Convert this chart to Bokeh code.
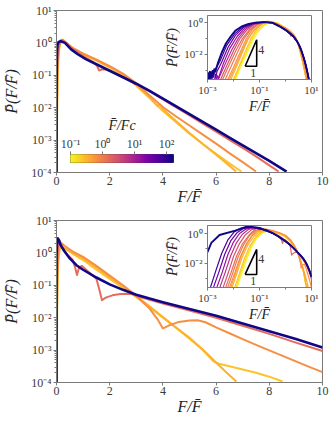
import numpy as np
from bokeh.plotting import figure
from bokeh.models import (CustomJSTickFormatter, FixedTicker, GridBox, Range1d, ColumnDataSource)
from bokeh.palettes import Plasma256
from bokeh.embed import file_html
from bokeh.resources import INLINE
from bokeh.core.properties import value

# ---------------- colour scale (F̄/Fc) ----------------
cbar_low, cbar_high = 0.1, 166.0
cbar_ticks = [0.1, 1, 10, 100]

# ---------------- TOP panel: main curves (F/F̄, log10 P̄) ----------------
top_yB_v = 0.25
top_yB_x = [0, 0.01, 0.017, 0.028, 0.045, 0.072, 0.11, 0.16, 0.22, 0.35, 0.6, 1.0, 1.5, 2.0, 2.5, 3.0,
            3.5, 4.0, 4.5, 5.0, 5.5, 6.0, 6.5, 6.95]
top_yB_logP = [-4, -3.6, -2.7, -1.85, -1.05, -0.5, -0.15, 0.02, 0.08, 0.0, -0.17, -0.35, -0.55, -0.76,
               -1.0, -1.32, -1.7, -2.1, -2.45, -2.8, -3.12, -3.42, -3.72, -3.97]

top_yA_v = 0.35
top_yA_x = [0, 0.0079, 0.0135, 0.022, 0.036, 0.06, 0.1, 0.15, 0.22, 0.35, 0.6, 1.0, 1.5, 2.0, 2.5, 3.0,
            3.5, 3.8, 3.9, 4.0, 4.5, 5.0, 5.5, 6.0, 6.4, 6.75]
top_yA_logP = [-4, -3.6, -2.72, -1.88, -1.05, -0.5, -0.15, 0.05, 0.1, 0.02, -0.15, -0.33, -0.52, -0.73,
               -0.97, -1.3, -1.68, -1.95, -1.9, -2.05, -2.42, -2.78, -3.12, -3.45, -3.72, -3.97]

top_or_v = 0.7
top_or_x = [0, 0.006, 0.0105, 0.0178, 0.03, 0.05, 0.08, 0.15, 0.22, 0.35, 0.6, 1.0, 1.5, 2.0, 2.5, 3.0,
            3.5, 4.0, 4.5, 5.0, 5.5, 6.0, 6.5, 7.0, 7.5]
top_or_logP = [-4, -3.6, -2.75, -1.9, -1.05, -0.48, -0.15, 0.08, 0.1, 0.02, -0.15, -0.33, -0.52, -0.72,
               -0.95, -1.25, -1.62, -1.98, -2.27, -2.55, -2.83, -3.11, -3.4, -3.68, -3.97]

top_sa_v = 1.6
top_sa_x = [0, 0.0038, 0.0066, 0.012, 0.022, 0.042, 0.08, 0.15, 0.22, 0.35, 0.55, 0.8, 1.1, 1.4, 1.52,
            1.6, 1.7, 1.85, 2.0, 2.5, 3.0, 3.5, 4.0, 4.5, 5.0, 5.5, 6.0, 6.5, 7.0, 7.5, 8.0, 8.35]
top_sa_logP = [-4, -3.6, -2.72, -1.8, -1.0, -0.42, -0.1, 0.06, 0.08, 0.0, -0.15, -0.3, -0.45, -0.6, -0.7,
               -0.85, -0.82, -0.82, -0.86, -1.06, -1.27, -1.5, -1.74, -1.99, -2.24, -2.49, -2.74, -2.99,
               -3.24, -3.5, -3.78, -3.97]

top_nv_v = 160
top_nv_x = [0, 0.00105, 0.0011, 0.00115, 0.00123, 0.00129, 0.00138, 0.00145, 0.00155, 0.00166, 0.00182,
            0.002, 0.0025, 0.0035, 0.0051, 0.0079, 0.012, 0.022, 0.038, 0.079, 0.16, 0.32, 0.55, 0.8,
            1.1, 1.5, 2.0, 2.5, 3.0, 3.5, 4.0, 4.5, 5.0, 5.5, 6.0, 6.5, 7.0, 7.5, 8.0, 8.65]
top_nv_logP = [-4, -3.6, -3.2, -3.55, -3.1, -3.5, -3.15, -3.45, -3.05, -3.3, -2.95, -3.1, -2.56, -1.9,
               -1.31, -0.85, -0.48, -0.2, -0.06, 0.03, 0.05, 0.0, -0.2, -0.35, -0.5, -0.66, -0.86, -1.06,
               -1.26, -1.48, -1.72, -1.96, -2.2, -2.44, -2.68, -2.92, -3.16, -3.4, -3.64, -3.97]

# extra curves only in the top inset
top_ins_v = [0.1, 0.15, 0.5, 1.1, 3, 7, 16, 40, 80]
top_ins_x = [
    [0.012, 0.02, 0.033, 0.056, 0.09, 0.14, 0.21, 0.32, 0.5, 1.0, 2.0, 3.0, 4.0, 5.0, 6.0, 6.6],
    [0.011, 0.018, 0.03, 0.05, 0.08, 0.13, 0.2, 0.32, 0.5, 1.0, 2.0, 3.0, 4.0, 5.0, 6.0, 6.7],
    [0.0069, 0.012, 0.02, 0.034, 0.058, 0.1, 0.17, 0.3, 0.5, 1.0, 2.0, 3.0, 4.0, 5.0, 6.0, 7.2],
    [0.0048, 0.0083, 0.0145, 0.025, 0.045, 0.08, 0.15, 0.3, 0.5, 1.0, 2.0, 3.0, 4.0, 5.0, 6.0, 7.0, 7.8],
    [0.0032, 0.0056, 0.01, 0.018, 0.034, 0.065, 0.13, 0.3, 0.5, 1.0, 2.0, 3.0, 4.0, 5.0, 6.0, 7.0, 8.0],
    [0.0026, 0.0046, 0.0085, 0.016, 0.031, 0.06, 0.13, 0.3, 0.5, 1.0, 2.0, 3.0, 4.0, 5.0, 6.0, 7.0, 8.1],
    [0.0022, 0.0024, 0.0026, 0.004, 0.0072, 0.014, 0.028, 0.058, 0.13, 0.3, 0.5, 1.0, 2.0, 3.0, 4.0,
     5.0, 6.0, 7.0, 8.1],
    [0.0019, 0.002, 0.0021, 0.0023, 0.0034, 0.0062, 0.012, 0.025, 0.055, 0.13, 0.3, 0.5, 1.0, 2.0, 3.0,
     4.0, 5.0, 6.0, 7.0, 8.2],
    [0.0013, 0.0014, 0.0015, 0.0016, 0.0017, 0.0019, 0.0029, 0.0054, 0.011, 0.023, 0.052, 0.13, 0.3,
     0.5, 1.0, 2.0, 3.0, 4.0, 5.0, 6.0, 7.0, 8.2],
]
top_ins_logP = [
    [-3.6, -2.7, -1.94, -1.1, -0.55, -0.2, -0.03, 0.05, 0.0, -0.33, -0.76, -1.32, -2.08, -2.78, -3.4, -3.7],
    [-3.6, -2.7, -1.92, -1.08, -0.53, -0.18, -0.02, 0.05, -0.01, -0.34, -0.75, -1.3, -2.05, -2.75, -3.35, -3.7],
    [-3.6, -2.75, -1.9, -1.08, -0.5, -0.15, 0.02, 0.05, -0.05, -0.36, -0.74, -1.25, -1.92, -2.55, -3.1, -3.7],
    [-3.6, -2.72, -1.85, -1.02, -0.45, -0.12, 0.04, 0.04, -0.1, -0.42, -0.83, -1.25, -1.72, -2.2, -2.7,
     -3.2, -3.7],
    [-3.6, -2.7, -1.78, -0.98, -0.42, -0.1, 0.04, 0.03, -0.12, -0.44, -0.85, -1.26, -1.72, -2.2, -2.68,
     -3.18, -3.7],
    [-3.6, -2.68, -1.72, -0.92, -0.37, -0.08, 0.04, 0.02, -0.13, -0.45, -0.86, -1.26, -1.72, -2.2, -2.68,
     -3.16, -3.7],
    [-3.6, -3.35, -3.55, -2.62, -1.62, -0.85, -0.32, -0.06, 0.04, 0.01, -0.14, -0.45, -0.86, -1.26, -1.72,
     -2.2, -2.68, -3.16, -3.7],
    [-3.6, -3.25, -3.5, -3.1, -2.55, -1.55, -0.78, -0.28, -0.05, 0.05, 0.01, -0.15, -0.45, -0.86, -1.26,
     -1.72, -2.2, -2.68, -3.16, -3.7],
    [-3.6, -3.3, -3.55, -3.2, -3.45, -3.0, -2.5, -1.45, -0.7, -0.25, -0.04, 0.05, 0.01, -0.15, -0.45,
     -0.86, -1.26, -1.72, -2.2, -2.68, -3.16, -3.7],
]

# ---------------- BOTTOM panel: main curves ----------------
bot_yB_v = 0.25
bot_yB_x = [0, 0.0112, 0.0166, 0.026, 0.042, 0.07, 0.12, 0.2, 0.32, 0.6, 1.0, 1.5, 2.0, 2.5, 3.0, 3.5,
            4.0, 4.5, 5.0, 5.5, 5.9, 6.1, 6.5, 7.0, 7.5, 8.0, 8.5]
bot_yB_logP = [-4, -3.63, -2.75, -1.7, -0.85, -0.25, 0.1, 0.18, 0.14, -0.02, -0.22, -0.52, -0.8, -1.08,
               -1.37, -1.68, -2.0, -2.32, -2.65, -3.0, -3.35, -3.42, -3.5, -3.6, -3.7, -3.82, -3.97]

bot_yA_v = 0.35
bot_yA_x = [0, 0.0089, 0.0135, 0.021, 0.035, 0.06, 0.1, 0.15, 0.3, 0.6, 1.0, 1.5, 2.0, 2.5, 3.0, 3.5,
            4.0, 4.5, 5.0, 5.5, 6.0, 6.4, 6.76]
bot_yA_logP = [-4, -3.63, -2.7, -1.65, -0.8, -0.2, 0.12, 0.2, 0.14, 0.0, -0.17, -0.45, -0.75, -1.03,
               -1.33, -1.65, -1.98, -2.3, -2.62, -2.98, -3.38, -3.7, -3.97]

bot_or_v = 0.7
bot_or_x = [0, 0.0071, 0.011, 0.018, 0.03, 0.05, 0.08, 0.16, 0.3, 0.6, 1.0, 1.5, 2.0, 2.5, 3.0, 3.5,
            3.8, 4.0, 4.2, 4.6, 5.0, 5.3, 5.6, 6.0, 6.5, 7.0, 7.5, 8.0, 8.5, 9.0, 9.5, 10.0]
bot_or_logP = [-4, -3.63, -2.7, -1.6, -0.75, -0.15, 0.2, 0.32, 0.22, 0.05, -0.12, -0.4, -0.7, -1.0,
               -1.32, -1.72, -2.05, -2.33, -2.25, -2.13, -2.09, -2.08, -2.14, -2.3, -2.48, -2.66, -2.84,
               -3.01, -3.18, -3.35, -3.52, -3.68]

bot_sa_v = 1.6
bot_sa_x = [0, 0.005, 0.008, 0.013, 0.022, 0.04, 0.07, 0.1, 0.25, 0.4, 0.6, 0.7, 0.77, 0.85, 0.95, 1.2,
            1.5, 1.6, 1.71, 1.85, 2.1, 2.4, 2.8, 3.2, 3.6, 4.0, 5.0, 6.0, 7.0, 8.0, 9.0, 10.0]
bot_sa_logP = [-4, -3.63, -2.65, -1.55, -0.7, -0.1, 0.3, 0.4, 0.1, -0.05, -0.2, -0.45, -0.68, -0.45,
               -0.4, -0.58, -0.8, -1.1, -1.46, -1.38, -1.31, -1.27, -1.26, -1.38, -1.47, -1.56, -1.78,
               -2.0, -2.25, -2.5, -2.77, -3.03]

bot_nv_v = 160
bot_nv_x = [0, 0.001, 0.0014, 0.0029, 0.0117, 0.03, 0.05, 0.1, 0.15, 0.3, 0.5, 0.75, 1.0, 1.5, 2.0, 2.5,
            3.0, 3.5, 4.0, 5.0, 6.0, 7.0, 8.0, 9.0, 10.0]
bot_nv_logP = [-4, -1.26, -0.63, -0.1, 0.2, 0.44, 0.45, 0.38, 0.25, 0.05, -0.17, -0.38, -0.52, -0.76,
               -0.97, -1.14, -1.29, -1.41, -1.52, -1.73, -1.94, -2.18, -2.42, -2.66, -2.92]

bot_ins_v = [0.1, 0.15, 0.5, 1.1, 3, 7, 16, 40, 80]
bot_ins_x = [
    [0.0138, 0.02, 0.032, 0.05, 0.08, 0.13, 0.2, 0.3, 0.6, 1.0, 1.5, 2.0, 3.0, 4.0, 5.0, 6.0, 6.6],
    [0.0126, 0.018, 0.029, 0.046, 0.075, 0.12, 0.19, 0.3, 0.6, 1.0, 1.5, 2.0, 3.0, 4.0, 5.0, 6.0, 6.7],
    [0.0079, 0.012, 0.019, 0.031, 0.052, 0.088, 0.15, 0.3, 0.6, 1.0, 1.5, 2.0, 3.0, 4.0, 5.0, 6.0, 7.0, 7.6],
    [0.006, 0.0093, 0.015, 0.025, 0.042, 0.072, 0.13, 0.3, 0.6, 1.0, 1.5, 2.0, 3.0, 4.0, 5.0, 6.0, 7.0,
     8.0, 9.0, 10.0],
    [0.004, 0.0063, 0.01, 0.017, 0.029, 0.05, 0.09, 0.2, 0.5, 1.0, 2.0, 3.0, 4.0, 5.0, 6.0, 7.0, 8.0, 9.0, 10.0],
    [0.003, 0.0048, 0.0078, 0.013, 0.022, 0.038, 0.07, 0.2, 0.5, 1.0, 2.0, 3.0, 4.0, 5.0, 6.0, 7.0, 8.0,
     9.0, 10.0],
    [0.0023, 0.0037, 0.006, 0.01, 0.017, 0.03, 0.055, 0.2, 0.5, 1.0, 2.0, 3.0, 4.0, 5.0, 6.0, 7.0, 8.0,
     9.0, 10.0],
    [0.0017, 0.0028, 0.0046, 0.0078, 0.0135, 0.024, 0.045, 0.2, 0.5, 1.0, 2.0, 3.0, 4.0, 5.0, 6.0, 7.0,
     8.0, 9.0, 10.0],
    [0.0013, 0.0021, 0.0035, 0.006, 0.0105, 0.019, 0.04, 0.2, 0.5, 1.0, 2.0, 3.0, 4.0, 5.0, 6.0, 7.0, 8.0,
     9.0, 10.0],
]
bot_ins_logP = [
    [-3.63, -2.8, -1.75, -0.9, -0.3, 0.05, 0.15, 0.14, 0.0, -0.2, -0.5, -0.8, -1.37, -2.0, -2.65, -3.4, -3.7],
    [-3.63, -2.78, -1.72, -0.87, -0.27, 0.08, 0.17, 0.14, -0.01, -0.21, -0.51, -0.8, -1.37, -2.0, -2.65,
     -3.38, -3.7],
    [-3.63, -2.7, -1.62, -0.77, -0.17, 0.16, 0.27, 0.2, 0.03, -0.15, -0.42, -0.72, -1.3, -1.9, -2.45,
     -2.95, -3.4, -3.7],
    [-3.63, -2.68, -1.58, -0.73, -0.12, 0.22, 0.35, 0.12, -0.18, -0.45, -0.72, -0.98, -1.3, -1.6, -1.85,
     -2.08, -2.32, -2.58, -2.85, -3.12],
    [-3.63, -2.65, -1.55, -0.68, -0.08, 0.26, 0.4, 0.2, -0.15, -0.5, -0.97, -1.29, -1.53, -1.75, -1.96,
     -2.2, -2.45, -2.7, -2.96],
    [-3.63, -2.62, -1.5, -0.63, -0.05, 0.28, 0.42, 0.2, -0.16, -0.51, -0.97, -1.29, -1.52, -1.74, -1.95,
     -2.19, -2.43, -2.68, -2.94],
    [-3.63, -2.6, -1.45, -0.58, 0.0, 0.3, 0.43, 0.21, -0.17, -0.52, -0.97, -1.29, -1.52, -1.73, -1.94,
     -2.18, -2.42, -2.66, -2.92],
    [-3.63, -2.55, -1.4, -0.5, 0.05, 0.33, 0.43, 0.21, -0.17, -0.52, -0.97, -1.29, -1.52, -1.73, -1.94,
     -2.18, -2.42, -2.66, -2.92],
    [-3.63, -2.5, -1.35, -0.45, 0.1, 0.35, 0.44, 0.21, -0.17, -0.52, -0.97, -1.29, -1.52, -1.73, -1.94,
     -2.18, -2.42, -2.66, -2.92],
]

# slope-4 guide triangle in the insets (F/F̄ corners, log10 P̄ corners) and its labels
tri_F = [0.028, 0.078, 0.078, 0.028]
tri_logP = [-2.76, -2.76, -1.07, -2.76]
tri_label_text = ["4", "1"]
tri_label_F = [0.118, 0.057]
tri_label_logP = [-1.75, -3.2]

# ---------------- styling ----------------
SPINE = "#7a7a7a"
TXT = "#3a3a3a"
SERIF = "Liberation Serif"
YLAB = "P\u0304(F/F\u0304)"
XLAB = "F/F\u0304"


def color_of(v):
    t = (np.log10(v) - np.log10(cbar_low)) / (np.log10(cbar_high) - np.log10(cbar_low))
    idx = int(round((1 - t) * 255))
    return Plasma256[min(max(idx, 0), 255)]


def sup_formatter():
    return CustomJSTickFormatter(code="""
const s = {"-":"\u207b","0":"\u2070","1":"\u00b9","2":"\u00b2","3":"\u00b3","4":"\u2074",
           "5":"\u2075","6":"\u2076","7":"\u2077","8":"\u2078","9":"\u2079"};
const e = Math.round(Math.log10(tick));
return "10" + String(e).split("").map(c => s[c]).join("");
""")


def style_axis(ax, tick_size, label_size, label_standoff, tick_out=3, tick_standoff=1):
    ax.axis_line_color = SPINE
    ax.major_tick_line_color = SPINE
    ax.minor_tick_line_color = SPINE
    ax.major_tick_out = tick_out
    ax.major_tick_in = 0
    ax.minor_tick_out = 2
    ax.minor_tick_in = 0
    ax.major_label_text_font = SERIF
    ax.major_label_text_font_size = tick_size
    ax.major_label_text_color = TXT
    ax.major_label_standoff = tick_standoff
    ax.axis_label_text_font = SERIF
    ax.axis_label_text_font_style = "italic"
    ax.axis_label_text_font_size = label_size
    ax.axis_label_text_color = "#222222"
    ax.axis_label_standoff = label_standoff


decades = [1e-4, 1e-3, 1e-2, 1e-1, 1.0, 10.0]
minor_decade_ticks = [m * d for d in decades[:-1] for m in range(2, 10)]


def main_fig(height, btop, bbot, curves):
    p = figure(width=330, height=height, x_range=Range1d(0, 10), y_range=Range1d(1e-4, 10),
               y_axis_type="log", output_backend="svg", toolbar_location=None,
               min_border_left=54, min_border_right=8, min_border_top=btop, min_border_bottom=bbot,
               border_fill_color=None, frame_align=False)
    p.xgrid.visible = False
    p.ygrid.visible = False
    p.outline_line_color = SPINE
    p.xaxis.ticker = FixedTicker(ticks=[0, 2, 4, 6, 8, 10])
    p.yaxis.ticker = FixedTicker(ticks=decades, minor_ticks=minor_decade_ticks)
    p.yaxis.formatter = sup_formatter()
    p.xaxis.axis_label = XLAB
    p.yaxis.axis_label = YLAB
    style_axis(p.xaxis[0], "12px", "16px", 0, tick_out=3, tick_standoff=1)
    style_axis(p.yaxis[0], "12px", "16px", 8, tick_out=3, tick_standoff=2)
    for (x, lp, v) in curves:
        lw = 2.6 if v > 100 else 2.0
        p.line(np.array(x), 10.0 ** np.array(lp), line_color=color_of(v), line_width=lw,
               line_join="round")
    return p


def inset_fig(height, ylo, yhi, btop, bbot, curves):
    q = figure(width=168, height=height, x_axis_type="log", y_axis_type="log",
               x_range=Range1d(1e-3, 10), y_range=Range1d(10 ** ylo, 10 ** yhi),
               output_backend="svg", toolbar_location=None,
               min_border_left=42, min_border_right=19, min_border_top=btop, min_border_bottom=bbot,
               border_fill_color=None, background_fill_color="white", frame_align=False)
    q.xgrid.visible = False
    q.ygrid.visible = False
    q.outline_line_color = SPINE
    q.xaxis.ticker = FixedTicker(ticks=[1e-3, 1e-1, 10], minor_ticks=[1e-2, 1])
    q.yaxis.ticker = FixedTicker(ticks=[1e-2, 1], minor_ticks=[1e-3, 1e-1])
    q.xaxis.formatter = sup_formatter()
    q.yaxis.formatter = sup_formatter()
    q.xaxis.axis_label = XLAB
    q.yaxis.axis_label = YLAB
    style_axis(q.xaxis[0], "11px", "14px", 0, tick_out=3, tick_standoff=1)
    style_axis(q.yaxis[0], "11px", "14px", 1, tick_out=3, tick_standoff=2)
    for (x, lp, v) in sorted(curves, key=lambda c: c[2]):
        xa = np.array(x, dtype=float)
        ya = 10.0 ** np.array(lp, dtype=float)
        keep = xa > 0
        lw = 1.9 if v > 100 else 1.2
        q.line(xa[keep], ya[keep], line_color=color_of(v), line_width=lw, line_join="round")
    q.line(tri_F, 10.0 ** np.array(tri_logP), line_color="black", line_width=1.6)
    q.text(x=tri_label_F, y=10.0 ** np.array(tri_label_logP), text=tri_label_text,
           text_font=value(SERIF), text_font_size="12px", text_color=TXT,
           text_align="center", text_baseline="middle")
    return q


top_main_curves = [(top_yB_x, top_yB_logP, top_yB_v), (top_yA_x, top_yA_logP, top_yA_v),
                   (top_or_x, top_or_logP, top_or_v), (top_sa_x, top_sa_logP, top_sa_v),
                   (top_nv_x, top_nv_logP, top_nv_v)]
bot_main_curves = [(bot_yB_x, bot_yB_logP, bot_yB_v), (bot_yA_x, bot_yA_logP, bot_yA_v),
                   (bot_or_x, bot_or_logP, bot_or_v), (bot_sa_x, bot_sa_logP, bot_sa_v),
                   (bot_nv_x, bot_nv_logP, bot_nv_v)]

# main panels: frames at y 10..172 and 220..382, x 54..322
p_top = main_fig(212, 10, 40, top_main_curves)
p_bot = main_fig(206, 8, 36, bot_main_curves)

# insets: frames at x 204..311, y 15..80 and 225..291
ins_top = inset_fig(116, -3.6, 0.47, 15, 36,
                    top_main_curves + list(zip(top_ins_x, top_ins_logP, top_ins_v)))
ins_bot = inset_fig(112, -3.64, 0.54, 13, 33,
                    bot_main_curves + list(zip(bot_ins_x, bot_ins_logP, bot_ins_v)))

# colour bar as a small log-axis figure (bar frame fixed at 103x12), 256 log-spaced swatches
cb = figure(frame_width=103, frame_height=12, x_axis_type="log", x_range=Range1d(cbar_low, cbar_high),
            y_range=Range1d(0, 1), x_axis_location="above", y_axis_location=None,
            output_backend="svg", toolbar_location=None,
            min_border_left=15, min_border_right=12, min_border_top=36, min_border_bottom=2,
            border_fill_color=None, frame_align=False)
cb.xgrid.visible = False
cb.ygrid.visible = False
edges = np.logspace(np.log10(cbar_low), np.log10(cbar_high), 257)
swatch_colors = list(Plasma256[::-1])
cb_src = ColumnDataSource(dict(left=edges[:-1], right=edges[1:], color=swatch_colors))
cb.quad(left="left", right="right", bottom=0, top=1, fill_color="color", line_color="color",
        line_width=0.6, source=cb_src)
cb.outline_line_color = "#555555"
cb.xaxis.ticker = FixedTicker(ticks=cbar_ticks)
cb.xaxis.formatter = sup_formatter()
cb.xaxis.axis_label = "F\u0304/Fc"
style_axis(cb.xaxis[0], "12px", "14px", 1, tick_out=3, tick_standoff=1)
cb.xaxis.axis_line_color = None

grid = GridBox(children=[(p_top, 0, 0, 4, 4), (ins_top, 0, 2, 2, 2), (cb, 1, 1, 2, 2),
                         (p_bot, 4, 0, 2, 4), (ins_bot, 4, 2, 1, 2)],
               rows=["114px", "2px", "48px", "48px", "112px", "94px"],
               cols=["55px", "107px", "23px", "145px"], spacing=0)

open("out.html", "w").write(file_html(grid, INLINE))
